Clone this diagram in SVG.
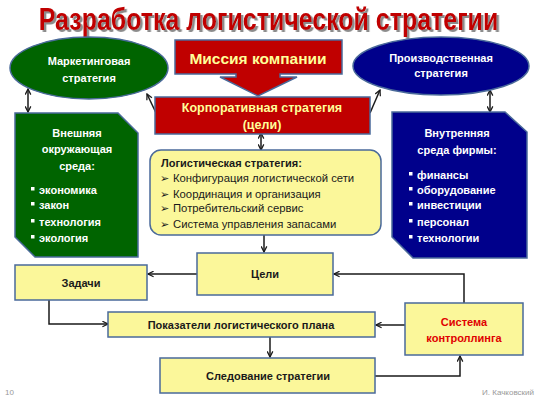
<svg xmlns="http://www.w3.org/2000/svg" width="538" height="404" viewBox="0 0 538 404">
<defs>
<marker id="ah" viewBox="0 0 10 10" refX="9" refY="5" markerWidth="7" markerHeight="7" markerUnits="userSpaceOnUse" orient="auto-start-reverse">
<path d="M1,1 L9,5 L1,9" fill="none" stroke="#1a1a1a" stroke-width="1.8"/>
</marker>
<filter id="sh" x="-5%" y="-30%" width="110%" height="170%">
<feDropShadow dx="3" dy="2" stdDeviation="0.6" flood-color="#7f7f7f" flood-opacity="0.9"/>
</filter>
</defs>
<style>
text{font-family:"Liberation Sans",Arial,sans-serif}
.title{font-size:32px;font-weight:bold;fill:#c00000}
.red{fill:#c00000;stroke:#4a6a9a;stroke-width:1.5}
.green{fill:#006400;stroke:#4a6a9a;stroke-width:1.5}
.blue{fill:#00008b;stroke:#4a6a9a;stroke-width:1.5}
.yel{fill:#fbf79a;stroke:#4a6a9a;stroke-width:1.5}
.wt{fill:#fff;font-weight:bold;font-size:11px}
.yt{fill:#ffff99;font-weight:bold}
.bt{fill:#1a1a1a;font-weight:bold;font-size:11px}
.nt{fill:#1a1a1a;font-size:11.3px}
.c{text-anchor:middle}
.conn{fill:none;stroke:#1a1a1a;stroke-width:1.5}
.foot{fill:#999;font-size:8px}
</style>
<rect width="538" height="404" fill="#fff"/>
<g id="title" transform="translate(268.5,30) scale(0.78,1)">
<text class="title c" x="0" y="0" filter="url(#sh)">Разработка  логистической  стратегии</text>
</g>
<g id="connectors">
<line class="conn" x1="157" y1="115" x2="147" y2="94" marker-end="url(#ah)"/>
<line class="conn" x1="370" y1="113" x2="380" y2="90" marker-end="url(#ah)"/>
<line class="conn" x1="28" y1="89" x2="28" y2="112" marker-start="url(#ah)" marker-end="url(#ah)"/>
<line class="conn" x1="490" y1="90" x2="490" y2="112" marker-start="url(#ah)" marker-end="url(#ah)"/>
<line class="conn" x1="261" y1="133" x2="261" y2="150" marker-start="url(#ah)" marker-end="url(#ah)"/>
<line class="conn" x1="264" y1="235" x2="264" y2="252" marker-end="url(#ah)"/>
<line class="conn" x1="197" y1="274" x2="148" y2="274" marker-end="url(#ah)"/>
<polyline class="conn" points="49,300 49,324 108,324" marker-end="url(#ah)"/>
<line class="conn" x1="270" y1="337" x2="270" y2="357" marker-end="url(#ah)"/>
<polyline class="conn" points="464,303 464,274 334,274" marker-end="url(#ah)"/>
<line class="conn" x1="405" y1="325" x2="376" y2="325" marker-end="url(#ah)"/>
<polyline class="conn" points="375,376 460,376 460,356" marker-end="url(#ah)"/>
</g>
<g id="marketing">
<ellipse class="green" cx="89" cy="68" rx="79" ry="31"/>
<text class="wt c" x="89" y="65">Маркетинговая</text>
<text class="wt c" x="89" y="82">стратегия</text>
</g>
<g id="mission">
<path class="red" d="M175,40 H342 V74 H280 V77 H297 L258,96 L220,77 H236 V74 H175 Z"/>
<text class="yt c" x="258" y="64" font-size="15.5">Миссия компании</text>
</g>
<g id="production">
<ellipse class="blue" cx="441" cy="66" rx="88" ry="29"/>
<text class="wt c" x="441" y="62">Производственная</text>
<text class="wt c" x="441" y="77">стратегия</text>
</g>
<g id="corporate">
<rect class="red" x="155" y="97" width="215" height="37"/>
<text class="yt c" x="262" y="112" font-size="12.5">Корпоративная стратегия</text>
<text class="yt c" x="262" y="129" font-size="12.5">(цели)</text>
</g>
<g id="external">
<path class="green" d="M15,113 H118 L138,133 V257 H35 L15,237 Z"/>
<text class="wt c" x="77" y="137" font-size="12">Внешняя</text>
<text class="wt c" x="77" y="153" font-size="12">окружающая</text>
<text class="wt c" x="77" y="170" font-size="12">среда:</text>
<g class="wt">
<rect x="31" y="187" width="3.5" height="3.5" fill="#fff"/><text x="39" y="194">экономика</text>
<rect x="31" y="202" width="3.5" height="3.5" fill="#fff"/><text x="39" y="209">закон</text>
<rect x="31" y="219" width="3.5" height="3.5" fill="#fff"/><text x="39" y="226">технология</text>
<rect x="31" y="235" width="3.5" height="3.5" fill="#fff"/><text x="39" y="242">экология</text>
</g>
</g>
<g id="internal">
<path class="blue" d="M392,112 H505 L527,132 V258 H413 L392,237 Z"/>
<text class="wt c" x="457" y="137" font-size="12">Внутренняя</text>
<text class="wt c" x="457" y="154" font-size="12">среда  фирмы:</text>
<g class="wt">
<rect x="409" y="172" width="3.5" height="3.5" fill="#fff"/><text x="417" y="179">финансы</text>
<rect x="409" y="187" width="3.5" height="3.5" fill="#fff"/><text x="417" y="194">оборудование</text>
<rect x="409" y="202" width="3.5" height="3.5" fill="#fff"/><text x="417" y="209">инвестиции</text>
<rect x="409" y="219" width="3.5" height="3.5" fill="#fff"/><text x="417" y="226">персонал</text>
<rect x="409" y="235" width="3.5" height="3.5" fill="#fff"/><text x="417" y="242">технологии</text>
</g>
</g>
<g id="logistics">
<rect class="yel" x="150" y="150" width="231" height="85" rx="11"/>
<text class="bt" x="161" y="167" font-size="11">Логистическая стратегия:</text>
<text class="nt" x="160" y="182">➢</text><text class="nt" x="173" y="182">Конфигурация логистической сети</text>
<text class="nt" x="160" y="198">➢</text><text class="nt" x="173" y="198">Координация и организация</text>
<text class="nt" x="160" y="212">➢</text><text class="nt" x="173" y="212">Потребительский сервис</text>
<text class="nt" x="160" y="228">➢</text><text class="nt" x="173" y="228">Система управления запасами</text>
</g>
<g id="goals">
<rect class="yel" x="197" y="253" width="136" height="42"/>
<text class="bt c" x="265" y="278">Цели</text>
</g>
<g id="tasks">
<rect class="yel" x="15" y="265" width="132" height="35"/>
<text class="bt c" x="81" y="287">Задачи</text>
</g>
<g id="indicators">
<rect class="yel" x="108" y="312" width="267" height="25"/>
<text class="bt c" x="241" y="329">Показатели логистического плана</text>
</g>
<g id="following">
<rect class="yel" x="160" y="358" width="215" height="35"/>
<text class="bt c" x="268" y="380">Следование стратегии</text>
</g>
<g id="controlling">
<rect class="yel" x="405" y="303" width="118" height="52"/>
<text class="c" x="464" y="326" font-size="11" font-weight="bold" fill="#e00000">Система</text>
<text class="c" x="464" y="342" font-size="11" font-weight="bold" fill="#e00000">контроллинга</text>
</g>
<g id="footer">
<text class="foot" x="5" y="395">10</text>
<text class="foot" x="534" y="395" text-anchor="end">И. Качковский</text>
</g>
</svg>
